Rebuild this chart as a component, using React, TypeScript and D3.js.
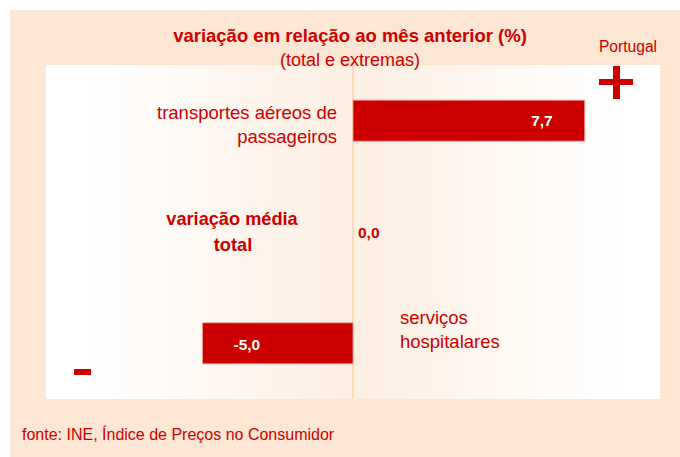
import React from "react";
import * as d3 from "d3";

const categories = ["transportes aéreos de passageiros", "variação média total", "serviços hospitalares"];
const values = [7.7, 0.0, -5.0];
const valueLabels = ["7,7", "0,0", "-5,0"];
const title = "variação em relação ao mês anterior (%)";
const subtitle = "(total e extremas)";
const region = "Portugal";
const source = "fonte: INE, Índice de Preços no Consumidor";

const W = 680;
const H = 457;
const RED = "#cc0000";
const PEACH = "#fde6d3";
const FONT = "'Liberation Sans', Arial, Helvetica, sans-serif";

export default function App() {
  const panel = { x0: 46, x1: 660, y0: 65, y1: 399 };
  const x = d3.scaleLinear().domain([-10.2, 10.2]).range([panel.x0, panel.x1]);
  const y = d3.scalePoint<string>().domain(categories).range([panel.y0, panel.y1]).padding(0.5);
  const barH = 41;
  const x0 = x(0);

  return (
    <svg width={W} height={H} style={{ position: "absolute", left: 0, top: 0, display: "block" }} fontFamily={FONT}>
      <defs>
        <linearGradient id="pg" x1="0" x2="1" y1="0" y2="0">
          <stop offset="0" stopColor="#ffffff" />
          <stop offset="0.07" stopColor="#ffffff" />
          <stop offset="0.5" stopColor="#fdeee2" />
          <stop offset="0.93" stopColor="#ffffff" />
          <stop offset="1" stopColor="#ffffff" />
        </linearGradient>
      </defs>
      <rect x={10} y={10} width={W - 10} height={H - 10} fill={PEACH} />
      <rect x={panel.x0} y={panel.y0} width={panel.x1 - panel.x0} height={panel.y1 - panel.y0} fill="url(#pg)" />
      <line x1={x0} x2={x0} y1={panel.y0} y2={panel.y1} stroke="#f8d5b3" strokeWidth={1.5} />

      {categories.map((c, i) => {
        const v = values[i];
        const cy = y(c)!;
        const bx = Math.min(x(v), x0);
        const bw = Math.abs(x(v) - x0);
        return (
          <g key={c}>
            {bw > 0 && (
              <rect x={bx} y={cy - barH / 2} width={bw} height={barH} fill={RED} stroke="#f3a394" strokeWidth={0.8} />
            )}
          </g>
        );
      })}

      {/* value labels */}
      <text x={x(values[0]) - 32} y={y(categories[0])! + 5} textAnchor="end" fill="#fff" fontWeight="bold" fontSize={15.5}>
        {valueLabels[0]}
      </text>
      <text x={x0 + 5} y={y(categories[1])! + 6} textAnchor="start" fill={RED} fontWeight="bold" fontSize={15.5}>
        {valueLabels[1]}
      </text>
      <text x={x(values[2]) + 31} y={y(categories[2])! + 7} textAnchor="start" fill="#fff" fontWeight="bold" fontSize={15.5}>
        {valueLabels[2]}
      </text>

      {/* category labels */}
      <text x={x0 - 16} y={y(categories[0])! - 2} textAnchor="end" fill={RED} fontSize={18.5}>
        <tspan x={x0 - 16}>transportes aéreos de</tspan>
        <tspan x={x0 - 16} dy={24}>passageiros</tspan>
      </text>
      <text x={232} y={y(categories[1])! - 7} textAnchor="middle" fill={RED} fontSize={18.2} fontWeight="bold">
        <tspan x={232}>variação média</tspan>
        <tspan x={233} dy={26}>total</tspan>
      </text>
      <text x={x0 + 47} y={y(categories[2])! - 19} textAnchor="start" fill={RED} fontSize={18.5}>
        <tspan x={x0 + 47}>serviços</tspan>
        <tspan x={x0 + 47} dy={24}>hospitalares</tspan>
      </text>

      {/* titles */}
      <text x={350} y={42} textAnchor="middle" fill={RED} fontWeight="bold" fontSize={18.5}>{title}</text>
      <text x={350} y={66} textAnchor="middle" fill={RED} fontSize={18}>{subtitle}</text>
      <text x={628} y={52} textAnchor="middle" fill={RED} fontSize={15.6}>{region}</text>

      {/* plus / minus */}
      <rect x={599} y={79} width={34} height={6} fill={RED} />
      <rect x={613} y={66} width={7} height={33} fill={RED} />
      <rect x={74} y={369} width={17} height={6} fill={RED} />

      <text x={22} y={440} fill={RED} fontSize={16}>{source}</text>
    </svg>
  );
}
